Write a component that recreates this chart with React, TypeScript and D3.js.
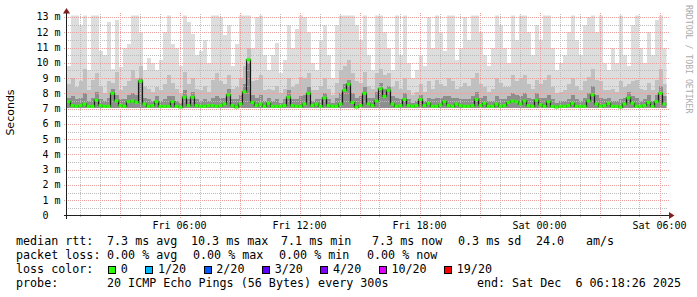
import React from 'react';
import * as d3 from 'd3';

// ---- data (30 h window, one sample every 12 minutes) ----
const START = new Date(2025, 11, 5, 0, 21);
const END = new Date(2025, 11, 6, 6, 21);
const STEP_MINUTES = 12;
const SMOKE_FLOOR = 7.05; // ms, lowest ping

const medianMs = [
  7.45, 7.2, 7.15, 7.2, 7.3, 7.15, 7.15, 7.55, 7.2, 7.15,
  7.15, 8.0, 7.5, 7.2, 7.15, 7.45, 7.5, 7.4, 8.8, 7.3,
  7.15, 7.2, 7.45, 7.15, 7.15, 7.15, 7.45, 7.15, 7.1, 7.75,
  7.2, 7.75, 7.2, 7.15, 7.15, 7.2, 7.2, 7.15, 7.2, 7.3,
  7.9, 7.2, 7.1, 7.3, 8.1, 10.2, 7.4, 7.2, 7.3, 7.15,
  7.35, 7.15, 7.15, 7.15, 7.2, 7.75, 7.2, 7.15, 7.15, 7.3,
  8.0, 7.2, 7.3, 7.15, 7.7, 7.2, 7.15, 7.15, 7.3, 8.2,
  8.6, 7.4, 7.1, 7.2, 8.0, 7.3, 7.2, 7.5, 8.3, 7.8,
  8.2, 7.3, 7.15, 7.2, 7.6, 7.2, 7.15, 7.2, 7.6, 7.2,
  7.35, 7.15, 7.15, 7.25, 7.45, 7.2, 7.15, 7.3, 7.2, 7.15,
  7.15, 7.2, 7.6, 7.2, 7.35, 7.15, 7.15, 7.3, 7.15, 7.2,
  7.4, 7.5, 7.45, 7.3, 7.5, 7.2, 7.15, 7.55, 7.25, 7.15,
  7.45, 7.15, 7.1, 7.15, 7.15, 7.2, 7.35, 7.15, 7.15, 7.15,
  7.5, 7.9, 7.3, 7.15, 7.2, 7.35, 7.15, 7.15, 7.1, 7.3,
  7.7, 7.35, 7.15, 7.15, 7.2, 7.4, 7.15, 7.45, 8.0, 7.3,
];

const smokeMax = [
  9.8, 13.5, 13.5, 12.5, 13.5, 9.5, 13.5, 13.5, 10.8, 10.5,
  12.7, 9.6, 12.8, 9.7, 11.0, 11.2, 13.5, 13.5, 12.0, 9.5,
  10.3, 10.0, 9.5, 10.2, 12.0, 13.5, 11.2, 11.0, 9.8, 13.5,
  12.7, 11.9, 10.5, 10.8, 11.5, 10.0, 13.5, 13.5, 13.0, 11.8,
  12.5, 9.8, 11.2, 13.5, 13.5, 13.5, 11.0, 13.0, 13.5, 10.5,
  9.5, 10.5, 11.3, 9.3, 10.2, 12.5, 11.0, 12.2, 13.5, 13.0,
  12.0, 10.0, 9.5, 11.5, 12.5, 10.5, 9.0, 12.5, 13.5, 13.5,
  13.5, 13.2, 12.5, 11.5, 13.5, 10.5, 9.5, 13.5, 13.5, 12.0,
  11.0, 9.5, 13.5, 10.5, 13.5, 10.0, 9.0, 9.5, 10.5, 9.8,
  13.0, 11.0, 13.5, 12.0, 10.8, 13.5, 13.5, 10.2, 11.0, 13.0,
  11.5, 13.5, 13.5, 12.0, 10.5, 9.8, 11.0, 13.5, 12.5, 11.0,
  10.0, 13.5, 11.5, 13.5, 13.5, 12.0, 10.5, 12.5, 11.5, 13.5,
  13.5, 11.0, 9.5, 10.0, 10.5, 12.0, 13.5, 11.5, 10.5, 12.5,
  13.0, 13.5, 12.0, 13.5, 10.0, 9.5, 11.0, 10.0, 13.5, 10.5,
  9.8, 12.5, 13.5, 11.0, 10.0, 12.0, 10.5, 12.8, 13.5, 11.0,
];

const smokeMid = [
  8.6, 9.0, 8.4, 8.8, 9.6, 8.2, 8.9, 9.3, 8.5, 8.0,
  8.8, 8.7, 9.4, 8.2, 8.5, 8.8, 9.5, 9.0, 9.8, 8.4,
  8.3, 8.1, 8.4, 8.2, 8.6, 9.2, 8.7, 8.3, 8.0, 9.4,
  8.6, 9.0, 8.3, 8.2, 8.5, 8.1, 8.9, 9.3, 8.8, 8.6,
  9.2, 8.3, 8.4, 9.0, 9.8, 11.0, 8.8, 8.9, 9.2, 8.2,
  8.3, 8.2, 8.5, 8.0, 8.3, 9.0, 8.4, 8.6, 9.1, 9.0,
  9.3, 8.2, 8.2, 8.5, 9.0, 8.3, 7.9, 8.7, 9.5, 9.8,
  10.2, 9.3, 8.8, 8.7, 9.4, 8.5, 8.3, 9.3, 9.6, 9.2,
  9.3, 8.4, 8.8, 8.3, 9.0, 8.2, 7.9, 8.1, 8.6, 8.1,
  8.8, 8.3, 8.9, 8.6, 8.5, 9.0, 8.8, 8.3, 8.4, 8.7,
  8.5, 9.0, 9.3, 8.6, 8.4, 8.1, 8.3, 9.0, 8.7, 8.4,
  8.4, 9.2, 8.8, 9.0, 9.2, 8.6, 8.3, 8.9, 8.6, 8.9,
  9.2, 8.4, 8.0, 8.1, 8.2, 8.6, 9.0, 8.5, 8.2, 8.8,
  9.1, 9.6, 8.9, 8.8, 8.2, 8.2, 8.3, 8.1, 8.8, 8.4,
  8.6, 8.8, 8.9, 8.3, 8.2, 8.7, 8.2, 8.9, 9.6, 8.6,
];

const smokeLow = [
  7.7, 7.8, 7.6, 7.7, 8.0, 7.5, 7.7, 8.1, 7.6, 7.5,
  7.7, 8.3, 7.9, 7.6, 7.6, 7.9, 8.0, 7.9, 9.0, 7.7,
  7.6, 7.5, 7.8, 7.5, 7.6, 7.8, 7.8, 7.5, 7.4, 8.2,
  7.6, 8.1, 7.6, 7.5, 7.6, 7.5, 7.7, 7.8, 7.7, 7.7,
  8.3, 7.6, 7.6, 7.9, 8.6, 10.0, 7.9, 7.7, 7.9, 7.5,
  7.7, 7.5, 7.6, 7.4, 7.6, 8.2, 7.6, 7.6, 7.8, 7.9,
  8.4, 7.5, 7.6, 7.6, 8.0, 7.6, 7.4, 7.7, 8.0, 8.6,
  8.9, 8.0, 7.7, 7.8, 8.4, 7.7, 7.7, 8.1, 8.7, 8.3,
  8.5, 7.8, 7.7, 7.6, 8.0, 7.6, 7.4, 7.5, 7.9, 7.5,
  7.7, 7.6, 7.7, 7.7, 7.8, 7.8, 7.7, 7.7, 7.6, 7.6,
  7.6, 7.8, 8.1, 7.7, 7.8, 7.5, 7.5, 7.8, 7.6, 7.6,
  7.8, 8.0, 7.9, 7.8, 8.0, 7.7, 7.6, 8.0, 7.7, 7.7,
  7.9, 7.6, 7.4, 7.5, 7.5, 7.6, 7.9, 7.6, 7.5, 7.7,
  8.0, 8.5, 7.9, 7.7, 7.6, 7.7, 7.5, 7.5, 7.6, 7.7,
  8.1, 7.8, 7.7, 7.5, 7.6, 7.9, 7.5, 7.9, 8.5, 7.8,
];

const yTickValues = [0, 1, 2, 3, 4, 5, 6, 7, 8, 9, 10, 11, 12, 13];
const xTickLabels = ['Fri 06:00', 'Fri 12:00', 'Fri 18:00', 'Sat 00:00', 'Sat 06:00'];
const xTickTimes = [
  new Date(2025, 11, 5, 6, 0),
  new Date(2025, 11, 5, 12, 0),
  new Date(2025, 11, 5, 18, 0),
  new Date(2025, 11, 6, 0, 0),
  new Date(2025, 11, 6, 6, 0),
];

const lossLabels = ['0', '1/20', '2/20', '3/20', '4/20', '10/20', '19/20'];
const lossColors = ['#26ff00', '#00b8ff', '#0059ff', '#5e00ff', '#7e00ff', '#dd00ff', '#ff0000'];

const rttRow = [
  'median rtt:', '7.3 ms avg', '10.3 ms max', '7.1 ms min', '7.3 ms now', '0.3 ms sd', '24.0', 'am/s',
];
const lossRow = ['packet loss:', '0.00 % avg', '0.00 % max', '0.00 % min', '0.00 % now'];
const probeRow = ['probe:', '20 ICMP Echo Pings (56 Bytes) every 300s', 'end: Sat Dec\u00a0\u00a06 06:18:26 2025'];

// ---- layout ----
const W = 697;
const H = 297;
const X0 = 66.5;
const X1 = 666.5;
const Y0 = 215.5;
const YT = 15.5;
const PX_PER_MS = 15.27;
const MONO = 'DejaVu Sans Mono, monospace';

export default function App() {
  const x = d3.scaleTime().domain([START, END]).range([X0, X1]);
  const y = d3.scaleLinear().domain([0, (Y0 - YT) / PX_PER_MS]).range([Y0, YT]);

  const times = medianMs.map((_, i) => new Date(START.getTime() + i * STEP_MINUTES * 60000));
  const timesExt = [...times, END];
  const ext = (a: number[]) => [...a, a[a.length - 1]];

  const areaGen = d3
    .area<number>()
    .x((_, i) => x(timesExt[i]))
    .y0(y(SMOKE_FLOOR))
    .y1((v) => y(v))
    .curve(d3.curveStepAfter);

  const lineGen = d3
    .line<number>()
    .x((_, i) => x(timesExt[i]))
    .y((v) => y(v))
    .curve(d3.curveStepAfter);

  const hours = d3.timeHour.range(START, END);
  const minorV = hours.filter((h) => h.getHours() % 3 !== 0);
  const majorV = hours.filter((h) => h.getHours() % 3 === 0);
  const minorH = d3.range(0.5, 13.1, 1);
  const majorH = yTickValues.filter((v) => v > 0);

  const smokeLayers: [number[], string][] = [
    [smokeMax, '#dddddd'],
    [smokeMid, '#c0c0c0'],
    [smokeLow, '#8e8e8e'],
  ];

  // legend positions for loss colours
  const lossItems: { bx: number; tx: number; label: string; color: string }[] = [];
  let cx = 108;
  lossLabels.forEach((label, i) => {
    const tx = cx + 12.7;
    lossItems.push({ bx: cx, tx, label, color: lossColors[i] });
    cx = tx + label.length * 7.04 + 17.5;
  });

  const rttX = [16, 107, 191, 281, 372, 458, 536, 586];
  const lossX = [16, 107, 193, 279, 367];
  const rowY = [244.5, 258.5, 272.5, 286.5];

  return (
    <svg
      width={W}
      height={H}
      viewBox={`0 0 ${W} ${H}`}
      style={{ position: 'absolute', left: 0, top: 0, display: 'block' }}
    >
      <defs>
        <clipPath id="plotClip">
          <rect x={X0} y={YT} width={X1 - X0} height={Y0 - YT} />
        </clipPath>
      </defs>
      <rect x={0} y={0} width={W} height={H} fill="#ffffff" />

      {/* smoke */}
      <g clipPath="url(#plotClip)" shapeRendering="crispEdges">
        {smokeLayers.map(([vals, color], k) => (
          <path key={k} d={areaGen(ext(vals)) || ''} fill={color} />
        ))}
      </g>

      {/* grid */}
      <g shapeRendering="crispEdges" strokeDasharray="1 1" strokeWidth={1}>
        {minorH.map((v) => (
          <line key={'mh' + v} x1={X0 - 1} x2={X1 + 1} y1={Math.round(y(v)) + 0.5} y2={Math.round(y(v)) + 0.5} stroke="#bcbcbc" />
        ))}
        {minorV.map((t) => (
          <line key={'mv' + t.getTime()} x1={Math.round(x(t)) + 0.5} x2={Math.round(x(t)) + 0.5} y1={YT - 2} y2={Y0 + 2} stroke="#bcbcbc" />
        ))}
        {majorH.map((v) => (
          <line key={'MH' + v} x1={X0 - 3} x2={X1 + 2} y1={Math.round(y(v)) + 0.5} y2={Math.round(y(v)) + 0.5} stroke="#eba0a0" />
        ))}
        {majorV.map((t) => (
          <line key={'MV' + t.getTime()} x1={Math.round(x(t)) + 0.5} x2={Math.round(x(t)) + 0.5} y1={YT - 3} y2={Y0 + 3} stroke="#eba0a0" />
        ))}
      </g>

      {/* median */}
      <g clipPath="url(#plotClip)">
        <path d={lineGen(ext(medianMs)) || ''} fill="none" stroke="#1a1a1a" strokeWidth={1.2} />
        {medianMs.map((m, i) => (
          <rect
            key={'md' + i}
            x={x(timesExt[i])}
            width={x(timesExt[i + 1]) - x(timesExt[i])}
            y={y(m) - 1.5}
            height={3}
            fill="#26ff00"
          />
        ))}
      </g>

      {/* axes */}
      <g shapeRendering="crispEdges">
        <line x1={X0 - 3} x2={X1 + 3} y1={Y0} y2={Y0} stroke="#1f1f1f" strokeWidth={1} />
        <line x1={X0} x2={X0} y1={Y0 + 3} y2={YT - 3} stroke="#1f1f1f" strokeWidth={1} />
      </g>
      <path d={`M${X1 + 2.5},${Y0 - 3.5} L${X1 + 8},${Y0} L${X1 + 2.5},${Y0 + 3.5} Z`} fill="#801f1f" />
      <path d={`M${X0 - 3.5},${YT - 2} L${X0},${YT - 7.5} L${X0 + 3.5},${YT - 2} Z`} fill="#801f1f" />

      {/* tick labels */}
      <g fontFamily={MONO} fontSize={10} fill="#000">
        {yTickValues.map((v) => (
          <text key={'yl' + v} x={60.5} y={y(v) + 3.5} textAnchor="end" style={{ whiteSpace: 'pre' }}>
            {v === 0 ? '0\u00a0\u00a0' : `${v}\u00a0m`}
          </text>
        ))}
        {xTickTimes.map((t, i) => (
          <text key={'xl' + i} x={x(t)} y={229} textAnchor="middle">
            {xTickLabels[i]}
          </text>
        ))}
      </g>

      {/* axis title */}
      <text
        transform="translate(14,112.5) rotate(-90)"
        textAnchor="middle"
        fontFamily="DejaVu Sans, sans-serif"
        fontSize={11}
        fill="#000"
      >
        Seconds
      </text>

      {/* watermark */}
      <text
        transform="translate(685.5,5) rotate(90)"
        fontFamily={MONO}
        fontSize={8.2}
        fill="#ababab"
        style={{ whiteSpace: 'pre' }}
      >
        RRDTOOL / TOBI OETIKER
      </text>

      {/* legend */}
      <g fontFamily={MONO} fontSize={11.7} fill="#000" style={{ whiteSpace: 'pre' }}>
        {rttRow.map((s, i) => (
          <text key={'r' + i} x={rttX[i]} y={rowY[0]}>{s}</text>
        ))}
        {lossRow.map((s, i) => (
          <text key={'l' + i} x={lossX[i]} y={rowY[1]}>{s}</text>
        ))}
        <text x={16} y={rowY[2]}>loss color:</text>
        {lossItems.map((it, i) => (
          <g key={'li' + i}>
            <rect x={it.bx + 0.5} y={rowY[2] - 6.5} width={7} height={7} fill={it.color} stroke="#000" strokeWidth={1} shapeRendering="crispEdges" />
            <text x={it.tx} y={rowY[2]}>{it.label}</text>
          </g>
        ))}
        <text x={16} y={rowY[3]}>{probeRow[0]}</text>
        <text x={107} y={rowY[3]}>{probeRow[1]}</text>
        <text x={681} y={rowY[3]} textAnchor="end">{probeRow[2]}</text>
      </g>
    </svg>
  );
}
